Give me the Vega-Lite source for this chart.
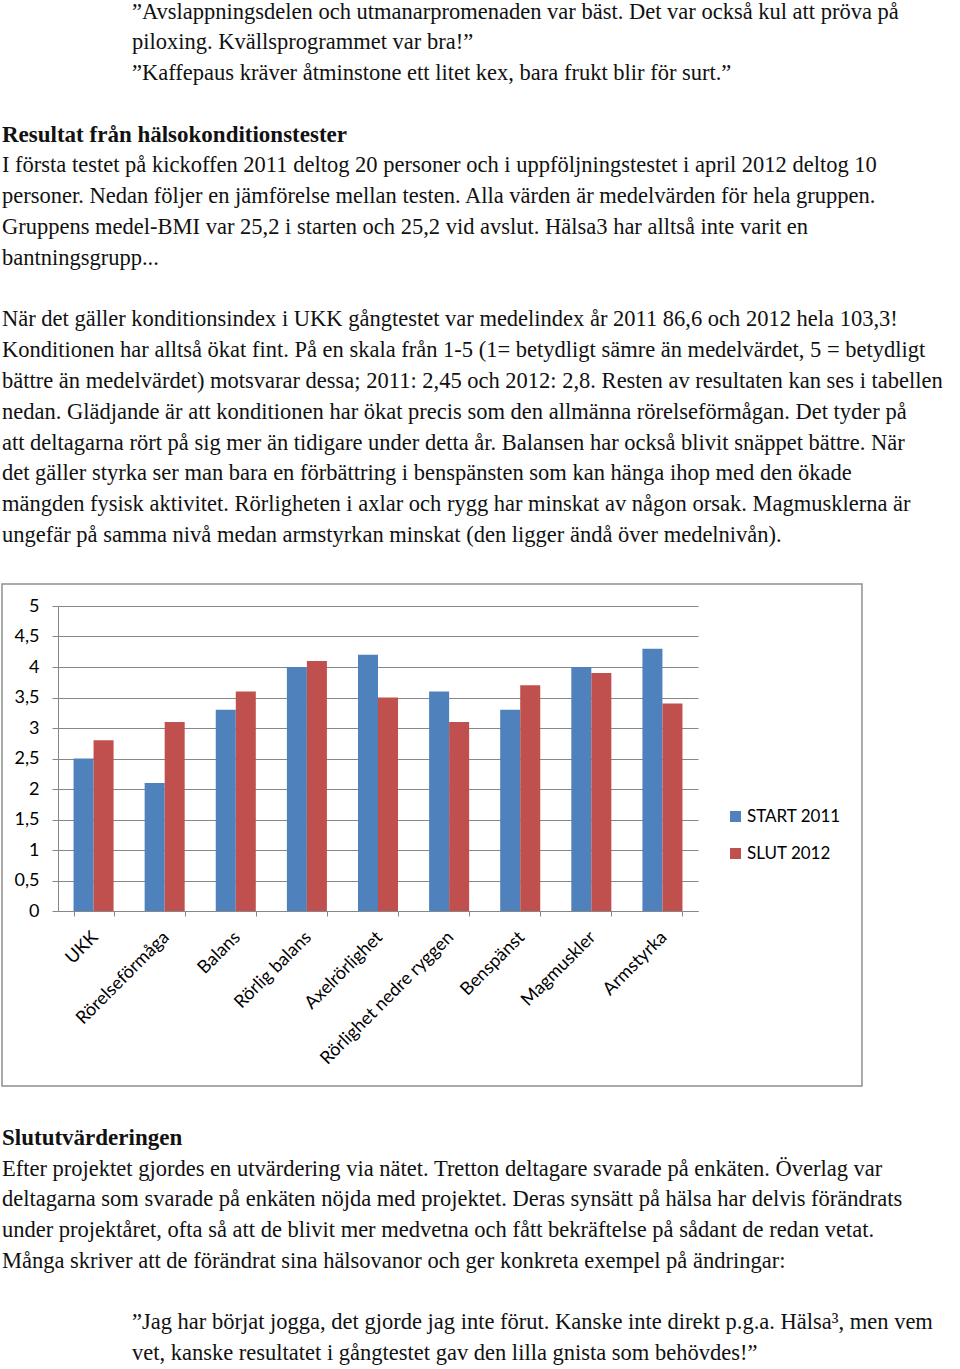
{
  "$schema": "https://vega.github.io/schema/vega-lite/v6.json",
  "padding": {"left": 1, "top": 0, "right": 0, "bottom": 0},
  "background": "white",
  "bounds": "flush",
  "spacing": 0,
  "config": {
    "view": {"stroke": null},
    "axis": {"labelFont": "Lato", "labelFontSize": 18, "labelColor": "#000000"}
  },
  "vconcat": [
    {
      "width": 900,
      "height": 605,
      "data": {"values": [
        {"rad": 0, "block": "citat", "stil": "text", "text": "”Avslappningsdelen och utmanarpromenaden var bäst. Det var också kul att pröva på"},
        {"rad": 1, "block": "citat", "stil": "text", "text": "piloxing. Kvällsprogrammet var bra!”"},
        {"rad": 2, "block": "citat", "stil": "text", "text": "”Kaffepaus kräver åtminstone ett litet kex, bara frukt blir för surt.”"},
        {"rad": 4, "block": "brödtext", "stil": "rubrik", "text": "Resultat från hälsokonditionstester"},
        {"rad": 5, "block": "brödtext", "stil": "text", "text": "I första testet på kickoffen 2011 deltog 20 personer och i uppföljningstestet i april 2012 deltog 10"},
        {"rad": 6, "block": "brödtext", "stil": "text", "text": "personer. Nedan följer en jämförelse mellan testen. Alla värden är medelvärden för hela gruppen."},
        {"rad": 7, "block": "brödtext", "stil": "text", "text": "Gruppens medel-BMI var 25,2 i starten och 25,2 vid avslut. Hälsa3 har alltså inte varit en"},
        {"rad": 8, "block": "brödtext", "stil": "text", "text": "bantningsgrupp..."},
        {"rad": 10, "block": "brödtext", "stil": "text", "text": "När det gäller konditionsindex i UKK gångtestet var medelindex år 2011 86,6 och 2012 hela 103,3!"},
        {"rad": 11, "block": "brödtext", "stil": "text", "text": "Konditionen har alltså ökat fint. På en skala från 1-5 (1= betydligt sämre än medelvärdet, 5 = betydligt"},
        {"rad": 12, "block": "brödtext", "stil": "text", "text": "bättre än medelvärdet) motsvarar dessa; 2011: 2,45 och 2012: 2,8. Resten av resultaten kan ses i tabellen"},
        {"rad": 13, "block": "brödtext", "stil": "text", "text": "nedan. Glädjande är att konditionen har ökat precis som den allmänna rörelseförmågan. Det tyder på"},
        {"rad": 14, "block": "brödtext", "stil": "text", "text": "att deltagarna rört på sig mer än tidigare under detta år. Balansen har också blivit snäppet bättre. När"},
        {"rad": 15, "block": "brödtext", "stil": "text", "text": "det gäller styrka ser man bara en förbättring i benspänsten som kan hänga ihop med den ökade"},
        {"rad": 16, "block": "brödtext", "stil": "text", "text": "mängden fysisk aktivitet. Rörligheten i axlar och rygg har minskat av någon orsak. Magmusklerna är"},
        {"rad": 17, "block": "brödtext", "stil": "text", "text": "ungefär på samma nivå medan armstyrkan minskat (den ligger ändå över medelnivån)."}
      ]},
      "encoding": {
        "x": {"field": "block", "type": "nominal", "scale": {"type": "point", "domain": ["brödtext", "citat"], "range": [-56, 74], "padding": 0}, "axis": null},
        "y": {"field": "rad", "type": "quantitative", "scale": {"domain": [-0.5682, 19.075], "reverse": true, "nice": false, "zero": false}, "axis": null},
        "text": {"field": "text", "type": "nominal"}
      },
      "layer": [
        {
          "transform": [{"filter": "datum.stil == 'rubrik'"}],
          "mark": {"type": "text", "align": "left", "baseline": "alphabetic", "font": "Liberation Serif", "fontSize": 23, "fontWeight": "bold", "color": "#111111"}
        },
        {
          "transform": [{"filter": "datum.stil != 'rubrik'"}],
          "mark": {"type": "text", "align": "left", "baseline": "alphabetic", "font": "Liberation Serif", "fontSize": 22.5, "color": "#111111"}
        }
      ]
    },
    {
      "width": 640,
      "height": 305,
      "layer": [
        {
          "data": {"values": [{"ram": "diagramram"}]},
          "mark": {"type": "rect", "filled": false, "color": "#8f8f8f", "strokeWidth": 1.5},
          "encoding": {
            "x": {"datum": -0.7875, "type": "quantitative", "scale": {"domain": [0, 9], "nice": false, "zero": false}, "axis": null},
            "x2": {"datum": 11.306},
            "y": {"datum": 5.3607, "type": "quantitative", "scale": {"domain": [0, 5], "nice": false, "zero": false}, "axis": null},
            "y2": {"datum": -2.8689}
          }
        },
        {
          "data": {"values": [
            {"kategori": "UKK", "serie": "START 2011", "varde": 2.5},
            {"kategori": "UKK", "serie": "SLUT 2012", "varde": 2.8},
            {"kategori": "Rörelseförmåga", "serie": "START 2011", "varde": 2.1},
            {"kategori": "Rörelseförmåga", "serie": "SLUT 2012", "varde": 3.1},
            {"kategori": "Balans", "serie": "START 2011", "varde": 3.3},
            {"kategori": "Balans", "serie": "SLUT 2012", "varde": 3.6},
            {"kategori": "Rörlig balans", "serie": "START 2011", "varde": 4.0},
            {"kategori": "Rörlig balans", "serie": "SLUT 2012", "varde": 4.1},
            {"kategori": "Axelrörlighet", "serie": "START 2011", "varde": 4.2},
            {"kategori": "Axelrörlighet", "serie": "SLUT 2012", "varde": 3.5},
            {"kategori": "Rörlighet nedre ryggen", "serie": "START 2011", "varde": 3.6},
            {"kategori": "Rörlighet nedre ryggen", "serie": "SLUT 2012", "varde": 3.1},
            {"kategori": "Benspänst", "serie": "START 2011", "varde": 3.3},
            {"kategori": "Benspänst", "serie": "SLUT 2012", "varde": 3.7},
            {"kategori": "Magmuskler", "serie": "START 2011", "varde": 4.0},
            {"kategori": "Magmuskler", "serie": "SLUT 2012", "varde": 3.9},
            {"kategori": "Armstyrka", "serie": "START 2011", "varde": 4.3},
            {"kategori": "Armstyrka", "serie": "SLUT 2012", "varde": 3.4}
          ]},
          "mark": {"type": "bar"},
          "encoding": {
            "x": {
              "field": "kategori", "type": "nominal", "sort": null,
              "scale": {"paddingInner": 0.437, "paddingOuter": 0.2185},
              "axis": {"title": null, "labelAngle": -45, "labelPadding": 12, "labelOffset": -5, "tickBand": "extent", "tickSize": 5, "tickColor": "#878787", "domainColor": "#878787", "grid": false}
            },
            "xOffset": {"field": "serie", "type": "nominal", "sort": ["START 2011", "SLUT 2012"]},
            "y": {
              "field": "varde", "type": "quantitative", "stack": null,
              "scale": {"domain": [0, 5], "nice": false, "zero": false},
              "axis": {"title": null, "values": [0, 0.5, 1, 1.5, 2, 2.5, 3, 3.5, 4, 4.5, 5], "labelExpr": "replace(format(datum.value, '~g'), '.', ',')", "tickSize": 6, "labelPadding": 13, "tickColor": "#878787", "domainColor": "#878787", "grid": true, "gridColor": "#878787", "gridOpacity": 1, "gridWidth": 1}
            },
            "y2": {"datum": 0},
            "color": {
              "field": "serie", "type": "nominal",
              "scale": {"domain": ["START 2011", "SLUT 2012"], "range": ["#4F81BD", "#C0504D"]},
              "legend": {"title": null, "orient": "none", "legendX": 669, "legendY": 807, "padding": 0, "symbolType": "square", "symbolSize": 121, "symbolStrokeWidth": 0, "labelFont": "Lato", "labelFontSize": 17, "labelColor": "#000000", "rowPadding": 19, "labelOffset": 3}
            }
          }
        }
      ],
      "resolve": {"scale": {"x": "independent", "y": "independent"}}
    },
    {
      "width": 900,
      "height": 459,
      "data": {"values": [
        {"rad": 0, "block": "brödtext", "stil": "rubrik", "text": "Slututvärderingen"},
        {"rad": 1, "block": "brödtext", "stil": "text", "text": "Efter projektet gjordes en utvärdering via nätet. Tretton deltagare svarade på enkäten. Överlag var"},
        {"rad": 2, "block": "brödtext", "stil": "text", "text": "deltagarna som svarade på enkäten nöjda med projektet. Deras synsätt på hälsa har delvis förändrats"},
        {"rad": 3, "block": "brödtext", "stil": "text", "text": "under projektåret, ofta så att de blivit mer medvetna och fått bekräftelse på sådant de redan vetat."},
        {"rad": 4, "block": "brödtext", "stil": "text", "text": "Många skriver att de förändrat sina hälsovanor och ger konkreta exempel på ändringar:"},
        {"rad": 6, "block": "citat", "stil": "text", "text": "”Jag har börjat jogga, det gjorde jag inte förut. Kanske inte direkt p.g.a. Hälsa³, men vem"},
        {"rad": 7, "block": "citat", "stil": "text", "text": "vet, kanske resultatet i gångtestet gav den lilla gnista som behövdes!”"}
      ]},
      "encoding": {
        "x": {"field": "block", "type": "nominal", "scale": {"type": "point", "domain": ["brödtext", "citat"], "range": [-56, 74], "padding": 0}, "axis": null},
        "y": {"field": "rad", "type": "quantitative", "scale": {"domain": [-7.622, 7.329], "reverse": true, "nice": false, "zero": false}, "axis": null},
        "text": {"field": "text", "type": "nominal"}
      },
      "layer": [
        {
          "transform": [{"filter": "datum.stil == 'rubrik'"}],
          "mark": {"type": "text", "align": "left", "baseline": "alphabetic", "font": "Liberation Serif", "fontSize": 23, "fontWeight": "bold", "color": "#111111"}
        },
        {
          "transform": [{"filter": "datum.stil != 'rubrik'"}],
          "mark": {"type": "text", "align": "left", "baseline": "alphabetic", "font": "Liberation Serif", "fontSize": 22.5, "color": "#111111"}
        }
      ]
    }
  ]
}
